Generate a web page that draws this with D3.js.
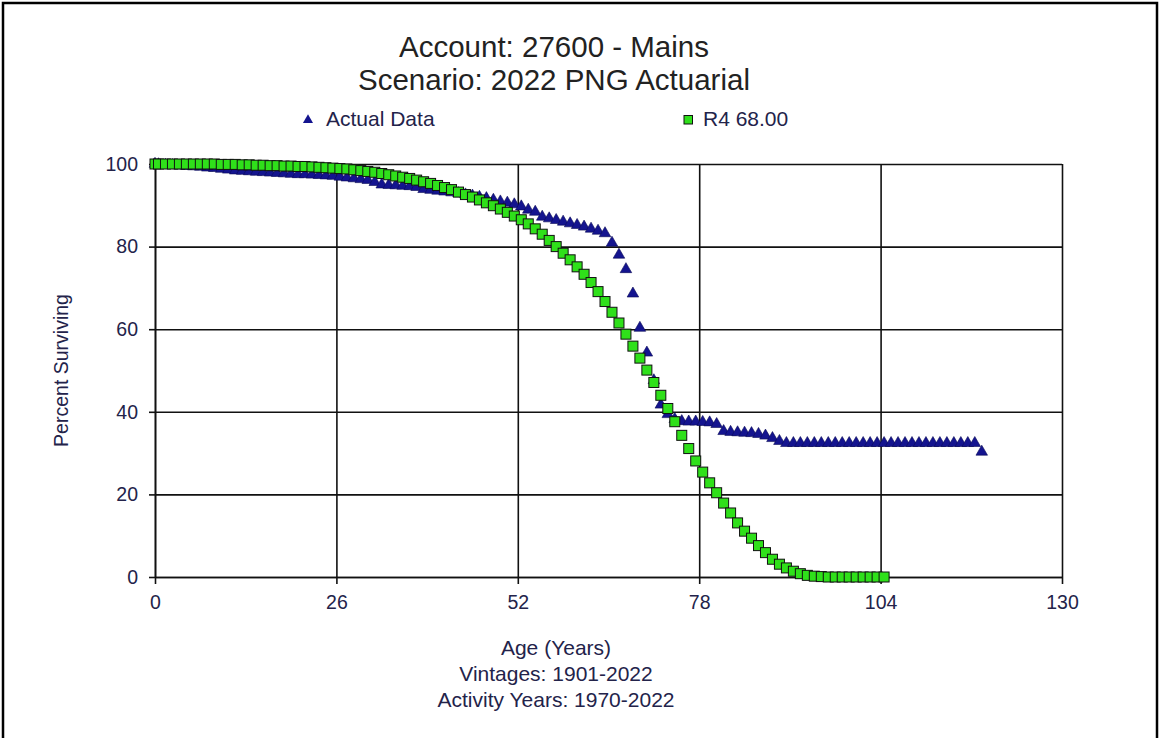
<!DOCTYPE html>
<html>
<head>
<meta charset="utf-8">
<script src="https://cdn.jsdelivr.net/npm/d3@7"></script>
<style>
  body { margin: 0; background: #fff; }
  svg text { font-family: "Liberation Sans", Arial, sans-serif; }
</style>
</head>
<body>
<svg id="chart" width="1160" height="738"></svg>
<script>
// chart values
var titleLines = ["Account: 27600 - Mains", "Scenario: 2022 PNG Actuarial"];
var xLabelLines = ["Age (Years)", "Vintages: 1901-2022", "Activity Years: 1970-2022"];
var xTicks = [0, 26, 52, 78, 104, 130];
var yTicks = [0, 20, 40, 60, 80, 100];
var seriesNames = ["Actual Data", "R4 68.00"];

// actual data (observed life table), ages at interval points
var actualAges = [0, 0.5, 1.5, 2.5, 3.5, 4.5, 5.5, 6.5, 7.5, 8.5, 9.5, 10.5, 11.5, 12.5, 13.5, 14.5, 15.5, 16.5, 17.5, 18.5, 19.5,
  20.5, 21.5, 22.5, 23.5, 24.5, 25.5, 26.5, 27.5, 28.5, 29.5, 30.5, 31.5, 32.5, 33.5, 34.5, 35.5, 36.5, 37.5, 38.5, 39.5,
  40.5, 41.5, 42.5, 43.5, 44.5, 45.5, 46.5, 47.5, 48.5, 49.5, 50.5, 51.5, 52.5, 53.5, 54.5, 55.5, 56.5, 57.5, 58.5, 59.5,
  60.5, 61.5, 62.5, 63.5, 64.5, 65.5, 66.5, 67.5, 68.5, 69.5, 70.5, 71.5, 72.5, 73.5, 74.5, 75.5, 76.5, 77.5, 78.5, 79.5,
  80.5, 81.5, 82.5, 83.5, 84.5, 85.5, 86.5, 87.5, 88.5, 89.5, 90.5, 91.5, 92.5, 93.5, 94.5, 95.5, 96.5, 97.5, 98.5, 99.5,
  100.5, 101.5, 102.5, 103.5, 104.5, 105.5, 106.5, 107.5, 108.5, 109.5, 110.5, 111.5, 112.5, 113.5, 114.5, 115.5, 116.5, 117.5, 118.5];
var actualPct = [100, 99.9, 99.8, 99.7, 99.6, 99.5, 99.4, 99.3, 99.1, 99.0, 98.8, 98.6, 98.4, 98.3, 98.2, 98.1, 98.0, 97.9, 97.8, 97.7, 97.6,
  97.5, 97.5, 97.4, 97.3, 97.2, 97.1, 96.9, 96.7, 96.5, 96.3, 96.1, 95.6, 95.0, 94.9, 94.8, 94.7, 94.6, 94.4, 93.9, 93.7,
  93.5, 93.3, 93.1, 92.9, 92.6, 92.3, 92.0, 91.7, 91.3, 90.9, 90.6, 90.2, 89.7, 88.9, 88.4, 87.2, 86.8, 86.4, 86.0, 85.6,
  85.2, 84.8, 84.3, 83.8, 83.2, 80.9, 78.0, 74.5, 68.6, 60.3, 54.3, 47.6, 41.7, 39.4, 38.2, 37.7, 37.6, 37.6, 37.5, 37.4,
  37.0, 35.3, 35.1, 35.0, 34.9, 34.8, 34.6, 34.2, 33.6, 32.9, 32.4, 32.4, 32.4, 32.4, 32.4, 32.4, 32.4, 32.4, 32.4, 32.4,
  32.4, 32.4, 32.4, 32.4, 32.4, 32.4, 32.4, 32.4, 32.4, 32.4, 32.4, 32.4, 32.4, 32.4, 32.4, 32.4, 32.4, 32.4, 30.3];

// fitted Iowa R4 curve, 68 year average life
var curveAges = [0, 0.5, 1.5, 2.5, 3.5, 4.5, 5.5, 6.5, 7.5, 8.5, 9.5, 10.5, 11.5, 12.5, 13.5, 14.5, 15.5, 16.5, 17.5, 18.5, 19.5,
  20.5, 21.5, 22.5, 23.5, 24.5, 25.5, 26.5, 27.5, 28.5, 29.5, 30.5, 31.5, 32.5, 33.5, 34.5, 35.5, 36.5, 37.5, 38.5, 39.5,
  40.5, 41.5, 42.5, 43.5, 44.5, 45.5, 46.5, 47.5, 48.5, 49.5, 50.5, 51.5, 52.5, 53.5, 54.5, 55.5, 56.5, 57.5, 58.5, 59.5,
  60.5, 61.5, 62.5, 63.5, 64.5, 65.5, 66.5, 67.5, 68.5, 69.5, 70.5, 71.5, 72.5, 73.5, 74.5, 75.5, 76.5, 77.5, 78.5, 79.5,
  80.5, 81.5, 82.5, 83.5, 84.5, 85.5, 86.5, 87.5, 88.5, 89.5, 90.5, 91.5, 92.5, 93.5, 94.5, 95.5, 96.5, 97.5, 98.5, 99.5,
  100.5, 101.5, 102.5, 103.5, 104.5];
var curvePct = [100, 100, 100, 100, 100, 100, 100, 100, 100, 100, 99.9, 99.9, 99.9, 99.8, 99.8, 99.7, 99.7, 99.6, 99.6, 99.5, 99.5,
  99.4, 99.4, 99.3, 99.2, 99.1, 99.0, 98.9, 98.8, 98.6, 98.4, 98.2, 98.0, 97.7, 97.4, 97.1, 96.8, 96.5, 96.1, 95.7, 95.3,
  94.8, 94.3, 93.8, 93.2, 92.6, 92.0, 91.3, 90.6, 89.9, 89.1, 88.3, 87.4, 86.5, 85.5, 84.3, 83.0, 81.5, 80.0, 78.4, 76.8,
  75.1, 73.3, 71.3, 69.1, 66.7, 64.1, 61.5, 58.8, 55.9, 53.0, 50.1, 47.1, 44.0, 40.8, 37.6, 34.3, 31.1, 28.1, 25.4, 22.8,
  20.4, 17.9, 15.5, 13.1, 11.1, 9.4, 7.6, 5.9, 4.3, 3.1, 2.2, 1.4, 0.8, 0.4, 0.2, 0.1, 0, 0, 0, 0,
  0, 0, 0, 0, 0];

var svg = d3.select("#chart");
var W = 1160, H = 738;
// plot box in pixels ("top" is taken by window.top, so plotTop etc.)
var plotLeft = 155, plotRight = 1062, plotTop = 164, plotBottom = 577;
var ink = "#23234a";

// outer frame round the whole picture
svg.append("rect")
  .attr("x", 3).attr("y", 3)
  .attr("width", W - 6).attr("height", H + 10)
  .attr("fill", "none").attr("stroke", "#000").attr("stroke-width", 2.5);

var x = d3.scaleLinear().domain([0, 130]).range([plotLeft, plotRight]);
var y = d3.scaleLinear().domain([0, 100]).range([plotBottom, plotTop]);

// titles
svg.selectAll("text.title")
  .data(titleLines)
  .join("text")
  .attr("class", "title")
  .attr("x", 554)
  .attr("y", (d, i) => 57 + i * 33)
  .attr("text-anchor", "middle")
  .attr("font-size", 29.5)
  .attr("fill", "#222")
  .text(d => d);

// grid (vertical + horizontal lines)
var grid = svg.append("g");
grid.append("g")
  .attr("transform", "translate(0," + plotBottom + ")")
  .call(d3.axisBottom(x).tickValues(xTicks).tickSize(-(plotBottom - plotTop)).tickFormat(""))
  .call(g => g.select(".domain").remove());
grid.append("g")
  .attr("transform", "translate(" + plotLeft + ",0)")
  .call(d3.axisLeft(y).tickValues(yTicks).tickSize(-(plotRight - plotLeft)).tickFormat(""))
  .call(g => g.select(".domain").remove());
grid.selectAll("line").attr("stroke", "#111").attr("stroke-width", 1.6);

// axes with ticks and labels
var xAxis = svg.append("g")
  .attr("transform", "translate(0," + plotBottom + ")")
  .call(d3.axisBottom(x).tickValues(xTicks).tickSizeInner(7).tickSizeOuter(0).tickPadding(11));
var yAxis = svg.append("g")
  .attr("transform", "translate(" + plotLeft + ",0)")
  .call(d3.axisLeft(y).tickValues(yTicks).tickSizeInner(6).tickSizeOuter(0).tickPadding(11));
[xAxis, yAxis].forEach(a => {
  a.select(".domain").attr("stroke", "#111").attr("stroke-width", 1.6);
  a.selectAll(".tick line").attr("stroke", "#111").attr("stroke-width", 1.6);
  a.selectAll(".tick text")
    .attr("font-family", "Liberation Sans, Arial, sans-serif")
    .attr("font-size", 19.5)
    .attr("fill", ink);
});

// axis titles
svg.append("text")
  .attr("transform", "translate(68," + ((plotTop + plotBottom) / 2) + ") rotate(-90)")
  .attr("text-anchor", "middle")
  .attr("font-size", 19.5)
  .attr("fill", ink)
  .text("Percent Surviving");

svg.selectAll("text.xlab")
  .data(xLabelLines)
  .join("text")
  .attr("class", "xlab")
  .attr("x", 556)
  .attr("y", (d, i) => 655 + i * 26)
  .attr("text-anchor", "middle")
  .attr("font-size", 21)
  .attr("fill", ink)
  .text(d => d);

// markers
var triangle = d3.symbol().type(d3.symbolTriangle).size(58);
var actual = actualAges.map((a, i) => [a, actualPct[i]]);
var curve = curveAges.map((a, i) => [a, curvePct[i]]);

svg.append("g")
  .selectAll("path")
  .data(actual)
  .join("path")
  .attr("d", triangle)
  .attr("transform", d => "translate(" + x(d[0]) + "," + y(d[1]) + ")")
  .attr("fill", "#14148f")
  .attr("stroke", "#0a0a55")
  .attr("stroke-width", 0.6);

svg.append("g")
  .selectAll("rect")
  .data(curve)
  .join("rect")
  .attr("x", d => x(d[0]) - 5)
  .attr("y", d => y(d[1]) - 5)
  .attr("width", 10)
  .attr("height", 10)
  .attr("fill", "#2fe01a")
  .attr("stroke", "#111")
  .attr("stroke-width", 1);

// legend
var legend = svg.append("g");
legend.append("path")
  .attr("d", d3.symbol().type(d3.symbolTriangle).size(44))
  .attr("transform", "translate(308,120)")
  .attr("fill", "#14148f");
legend.append("rect")
  .attr("x", 684).attr("y", 115.5).attr("width", 8.5).attr("height", 8.5)
  .attr("fill", "#2fe01a").attr("stroke", "#111").attr("stroke-width", 1);
legend.selectAll("text")
  .data(seriesNames)
  .join("text")
  .attr("x", (d, i) => i === 0 ? 326 : 703)
  .attr("y", 126)
  .attr("font-size", 21)
  .attr("fill", ink)
  .text(d => d);
</script>
</body>
</html>
